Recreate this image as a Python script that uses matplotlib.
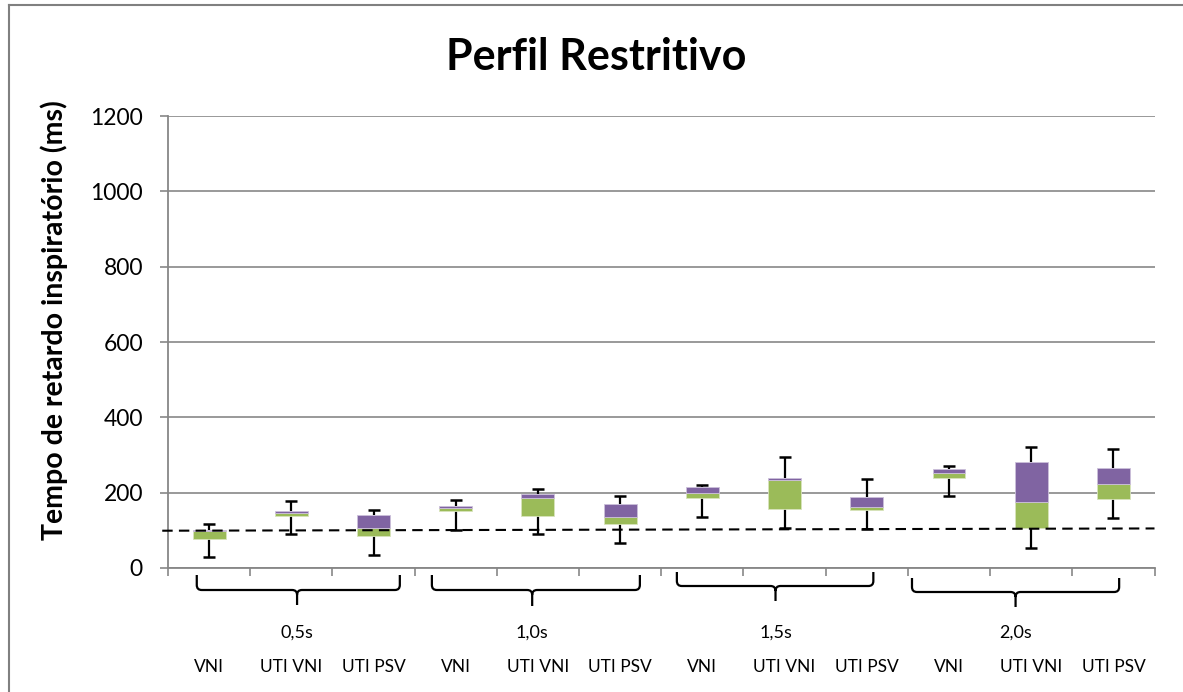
import matplotlib
matplotlib.use("Agg")
import matplotlib.pyplot as plt
from matplotlib.path import Path
from matplotlib.patches import PathPatch
from matplotlib.lines import Line2D
from matplotlib.transforms import blended_transform_factory
import numpy as np

plt.rcParams['font.family'] = ['Lato', 'DejaVu Sans']

# ---- data ----
groups = ["0,5s", "1,0s", "1,5s", "2,0s"]
modes = ["VNI", "UTI VNI", "UTI PSV"]
categories = [m for g in groups for m in modes]
whisker_min = [28, 89, 35, 102, 89, 67, 136, 106, 104, 190, 52, 133]
box_low     = [76, 139, 85, 152, 139, 117, 186, 156, 153, 240, 105, 183]
box_mid     = [98, 146, 105, 160, 186, 136, 200, 233, 161, 253, 175, 222]
box_high    = [102, 152, 140, 165, 197, 171, 215, 240, 188, 262, 281, 265]
whisker_max = [118, 178, 153, 180, 211, 190, 220, 294, 237, 272, 322, 315]
reference_line = [99, 105]   # dashed reference line, left and right end values
yticks = [0, 200, 400, 600, 800, 1000, 1200]

title = "Perfil Restritivo"
ylabel = "Tempo de retardo inspiratório (ms)"

GREEN = "#9BBB59"
PURPLE = "#8064A2"
GRID = "#878787"

W, H = 1183, 692
fig = plt.figure(figsize=(W / 100, H / 100), dpi=100)
ax = fig.add_axes([168 / W, (H - 568) / H, (1154.5 - 168) / W, (568 - 116) / H])

x = np.arange(len(categories))
lo = np.array(box_low); md = np.array(box_mid); hi = np.array(box_high)
wmin = np.array(whisker_min); wmax = np.array(whisker_max)

bw = 0.40
ax.bar(x, md - lo, bottom=lo, width=bw, color=GREEN, edgecolor="#d8e4bc", linewidth=0.6, zorder=3)
ax.bar(x, hi - md, bottom=md, width=bw, color=PURPLE, edgecolor="#ccc0da", linewidth=0.6, zorder=3)

# whiskers
ax.vlines(x, hi, wmax, color="black", linewidth=1.6, zorder=2)
ax.vlines(x, wmin, lo, color="black", linewidth=1.6, zorder=2)
ax.plot(x, wmax, linestyle="none", marker="_", markersize=9, markeredgewidth=1.8, color="black", zorder=4)
ax.plot(x, wmin, linestyle="none", marker="_", markersize=9, markeredgewidth=1.8, color="black", zorder=4)

# dashed reference line
ax.plot([-0.57, 11.5], reference_line, linestyle=(0, (5, 3)), color="black", linewidth=1.5,
        zorder=5, clip_on=False)

ax.set_xlim(-0.5, 11.5)
ax.set_ylim(0, 1200)
ax.set_yticks(yticks)
ax.set_yticklabels([str(v) for v in yticks], fontsize=16.5)
ax.set_xticks(np.arange(-0.5, 12, 1))
ax.set_xticklabels([])
ax.tick_params(axis="y", length=6, width=1.2, color=GRID, pad=12)
ax.tick_params(axis="x", length=6, width=1.2, color=GRID)
ax.yaxis.grid(True, color=GRID, linewidth=1.2, zorder=0)
ax.set_axisbelow(True)
for s in ["top", "right"]:
    ax.spines[s].set_visible(False)
for s in ["left", "bottom"]:
    ax.spines[s].set_color(GRID)
    ax.spines[s].set_linewidth(1.3)

# titles
fig.text(596 / W, (H - 70) / H, title, ha="center", va="baseline", fontsize=31, fontweight="bold")
fig.text(54 / W, (H - 320) / H, ylabel, ha="center", va="center", rotation=90,
         fontsize=20.5, fontweight="bold")

# category labels and group labels
tr = blended_transform_factory(ax.transData, fig.transFigure)
for i, c in enumerate(categories):
    ax.text(i, (H - 667) / H, c, transform=tr, ha="center", va="center", fontsize=12.5)

# braces: (left, right, stem) in data x ; (top, mid, bottom) in pixel y
braces = [(-0.15, 2.32, 1.07, 575, 590, 605),
          (2.71, 5.24, 3.93, 575, 590, 606),
          (5.69, 8.08, 6.89, 572, 586, 601),
          (8.55, 11.07, 9.81, 578, 592, 607)]
rx = 0.06
for (g, (xl, xr, xm, yt, yh, yb)) in zip(groups, braces):
    ry = 5 / H
    yt_, yh_, yb_ = (H - yt) / H, (H - yh) / H, (H - yb) / H
    verts = [(xl, yt_), (xl, yh_ + ry), (xl, yh_), (xl + rx, yh_), (xm - rx, yh_),
             (xm, yh_), (xm, yh_ - ry), (xm, yb_),
             (xr, yt_), (xr, yh_ + ry), (xr, yh_), (xr - rx, yh_), (xm + rx, yh_),
             (xm, yh_), (xm, yh_ - ry)]
    codes = [Path.MOVETO, Path.LINETO, Path.CURVE3, Path.CURVE3, Path.LINETO,
             Path.CURVE3, Path.CURVE3, Path.LINETO,
             Path.MOVETO, Path.LINETO, Path.CURVE3, Path.CURVE3, Path.LINETO,
             Path.CURVE3, Path.CURVE3]
    patch = PathPatch(Path(verts, codes), transform=tr, facecolor="none", edgecolor="black",
                      linewidth=1.6, clip_on=False)
    ax.add_patch(patch)
    ax.text(xm, (H - 633) / H, g, transform=tr, ha="center", va="center", fontsize=13)

# outer frame (left and top edges)
fig.add_artist(Line2D([8.5 / W, 8.5 / W], [0, (H - 4.5) / H], transform=fig.transFigure,
                      color="#808080", linewidth=1.5))
fig.add_artist(Line2D([8.5 / W, 1], [(H - 4.5) / H, (H - 4.5) / H], transform=fig.transFigure,
                      color="#808080", linewidth=1.5))

fig.savefig("out.png", dpi=100)
